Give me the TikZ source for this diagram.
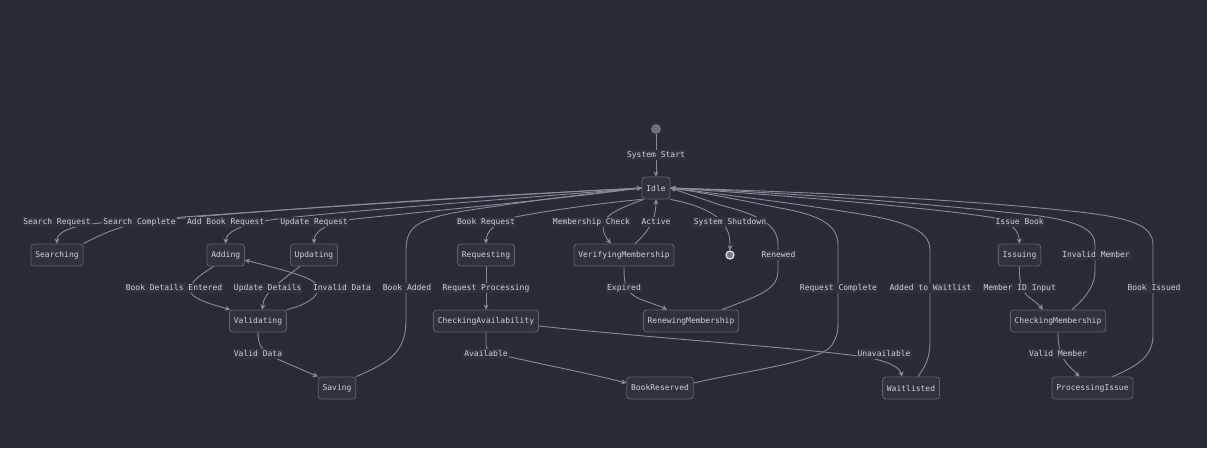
\documentclass[tikz,border=0pt]{standalone}
\usepackage{fontspec}
\setmonofont{DejaVu Sans Mono}
\usetikzlibrary{arrows.meta}
\definecolor{bgc}{RGB}{40,42,52}
\definecolor{nodefill}{RGB}{47,50,61}
\definecolor{nodeborder}{RGB}{92,97,112}
\definecolor{txt}{RGB}{205,210,222}
\definecolor{lblbg}{RGB}{46,49,59}
\definecolor{linec}{RGB}{135,140,156}
\definecolor{startc}{RGB}{105,110,130}
\definecolor{endring}{RGB}{215,220,230}
\definecolor{endfill}{RGB}{115,120,138}
\begin{document}
\begin{tikzpicture}[x=1pt,y=-1pt,
  stbox/.style={draw=nodeborder, fill=nodefill, rounded corners=3pt, minimum height=22pt,
    inner xsep=4.3pt, inner ysep=0pt, text=txt, font=\ttfamily\fontsize{8}{9}\selectfont, line width=0.8pt},
  elabel/.style={fill=lblbg, text=txt, inner xsep=1pt, inner ysep=1.2pt, text height=6pt, text depth=1.8pt,
    font=\ttfamily\fontsize{8}{9}\selectfont},
  conn/.style={draw=linec, line width=0.9pt, -{Stealth[length=5pt,width=5pt,inset=1.5pt]}}]
\useasboundingbox (0,0) rectangle (1207,448);
\fill[bgc] (0,0) rectangle (1207,448);

% states
\node[circle, fill=startc, minimum size=10pt, inner sep=0pt] (start) at (656,129) {};
\node[stbox] (idle) at (656,188) {Idle};
\node[stbox] (searching) at (57,255) {Searching};
\node[stbox] (adding) at (225.7,255) {Adding};
\node[stbox] (updating) at (314,255) {Updating};
\node[stbox] (requesting) at (486,255) {Requesting};
\node[stbox] (verifying) at (624,255) {VerifyingMembership};
\node[circle, draw=endring, fill=endfill, line width=1.3pt, minimum size=8pt, inner sep=0pt] (endst) at (730,255) {};
\node[stbox] (issuing) at (1019.5,255) {Issuing};
\node[stbox] (validating) at (258,321) {Validating};
\node[stbox] (checkavail) at (486,321) {CheckingAvailability};
\node[stbox] (renewing) at (691,321) {RenewingMembership};
\node[stbox] (checkmem) at (1058,321) {CheckingMembership};
\node[stbox] (saving) at (337,388) {Saving};
\node[stbox] (reserved) at (660,388) {BookReserved};
\node[stbox] (waitlisted) at (911,388) {Waitlisted};
\node[stbox] (procissue) at (1092.5,388) {ProcessingIssue};

% connectors
\draw[conn] (start) -- (idle.north);
\draw[conn] (idle.west) .. controls (450,198) and (250,212) .. (100,223) .. controls (70,226) and (57,232) .. (searching.north);
\draw[conn] (searching.north east) .. controls (95,238) and (115,226) .. (150,221) .. controls (300,207) and (500,195) .. (idle.west);
\draw[conn] (idle.west) .. controls (500,200) and (330,212) .. (270,220) .. controls (240,225) and (226,232) .. (adding.north);
\draw[conn] (idle.west) .. controls (550,200) and (420,212) .. (355,219) .. controls (325,223) and (314,232) .. (updating.north);
\draw[conn] (saving.north east) .. controls (390,362) and (406,352) .. (406,320) -- (406,250) .. controls (406,225) and (420,218) .. (470,210) .. controls (550,198) and (610,191) .. (idle.west);
\draw[conn] (idle.south west) .. controls (600,203) and (540,212) .. (515,217) .. controls (495,222) and (486,232) .. (requesting.north);
\draw[conn] (requesting.south) -- (checkavail.north);
\draw[conn] (checkavail.south) -- (486,345) .. controls (486,352) and (495,354) .. (510,357) .. controls (560,368) and (600,376) .. ([yshift=5pt]reserved.west);
\draw[conn] ([yshift=-5pt]checkavail.east) .. controls (650,338) and (830,350) .. (870,358) .. controls (890,362) and (900,368) .. ([xshift=-9pt]waitlisted.north);
\draw[conn] ([yshift=5pt]reserved.east) .. controls (750,370) and (820,362) .. (832,345) .. controls (838,335) and (838,330) .. (838,320) -- (838,245) .. controls (838,225) and (820,215) .. (780,208) .. controls (740,200) and (700,192) .. (idle.east);
\draw[conn] ([xshift=7pt]waitlisted.north) .. controls (926,365) and (930,358) .. (930,340) -- (930,250) .. controls (930,232) and (910,222) .. (860,214) .. controls (800,204) and (720,194) .. (idle.east);
\draw[conn] ([xshift=2pt]idle.south west) .. controls (620,208) and (604,215) .. (603,225) .. controls (603,235) and (608,240) .. ([xshift=-13pt]verifying.north);
\draw[conn] ([xshift=11pt]verifying.north) .. controls (645,235) and (656,222) .. (idle.south);
\draw[conn] (idle.south east) .. controls (700,205) and (720,215) .. (726,228) .. controls (730,235) and (730,240) .. (endst.north);
\draw[conn] (verifying.south) .. controls (624,285) and (625,292) .. (640,299) .. controls (650,303) and (660,306) .. ([xshift=-24pt]renewing.north);
\draw[conn] ([xshift=31pt]renewing.north) .. controls (760,295) and (778,290) .. (778,270) -- (778,245) .. controls (778,225) and (760,215) .. (720,205) .. controls (700,198) and (685,193) .. (idle.east);
\draw[conn] (idle.east) .. controls (800,196) and (950,210) .. (995,218) .. controls (1012,222) and (1019,232) .. (issuing.north);
\draw[conn] (issuing.south) .. controls (1019,285) and (1022,292) .. (1030,298) .. controls (1036,302) and (1040,306) .. ([xshift=-15pt]checkmem.north);
\draw[conn] ([xshift=14pt]checkmem.north) .. controls (1088,295) and (1095,285) .. (1095,270) -- (1095,245) .. controls (1095,230) and (1080,222) .. (1040,216) .. controls (900,200) and (750,191) .. (idle.east);
\draw[conn] (checkmem.south) .. controls (1058,350) and (1062,358) .. (1068,365) -- ([xshift=-13pt]procissue.north);
\draw[conn] ([xshift=20pt]procissue.north) .. controls (1140,365) and (1153,355) .. (1153,335) -- (1153,245) .. controls (1153,225) and (1130,218) .. (1080,212) .. controls (950,198) and (780,191) .. (idle.east);
\draw[conn] ([xshift=-12pt]adding.south) .. controls (200,275) and (190,282) .. (190,290) .. controls (190,298) and (210,304) .. ([xshift=1pt]validating.north west);
\draw[conn] ([xshift=-14pt]updating.south) .. controls (285,278) and (268,290) .. (264,300) -- ([xshift=4pt]validating.north);
\draw[conn] (validating.north east) .. controls (305,305) and (318,298) .. (318,288) .. controls (318,280) and (300,274) .. ([yshift=-5pt]adding.east);
\draw[conn] (validating.south) .. controls (258,345) and (262,352) .. (275,358) -- (saving.north west);

% labels
\node[elabel] (l1) at (656,155) {System Start};
\node[elabel] (l2) at (57,222) {Search Request};
\node[elabel] (l3) at (139.5,222) {Search Complete};
\node[elabel] (l4) at (225.7,222) {Add Book Request};
\node[elabel] (l5) at (314,222) {Update Request};
\node[elabel] (l6) at (486,222) {Book Request};
\node[elabel] (l7) at (591.5,222) {Membership Check};
\node[elabel] (l8) at (656,222) {Active};
\node[elabel] (l9) at (730,222) {System Shutdown};
\node[elabel] (l10) at (1019.7,222) {Issue Book};
\node[elabel] (l11) at (778.5,255) {Renewed};
\node[elabel] (l12) at (1096,255) {Invalid Member};
\node[elabel] (l13) at (174,288) {Book Details Entered};
\node[elabel] (l14) at (267.7,288) {Update Details};
\node[elabel] (l15) at (342,288) {Invalid Data};
\node[elabel] (l16) at (407,288) {Book Added};
\node[elabel] (l17) at (486,288) {Request Processing};
\node[elabel] (l18) at (624,288) {Expired};
\node[elabel] (l19) at (838.5,288) {Request Complete};
\node[elabel] (l20) at (930.5,288) {Added to Waitlist};
\node[elabel] (l21) at (1019.7,288) {Member ID Input};
\node[elabel] (l22) at (1154,288) {Book Issued};
\node[elabel] (l23) at (258,354) {Valid Data};
\node[elabel] (l24) at (486,354) {Available};
\node[elabel] (l25) at (884,354) {Unavailable};
\node[elabel] (l26) at (1058,354) {Valid Member};
\end{tikzpicture}
\end{document}
